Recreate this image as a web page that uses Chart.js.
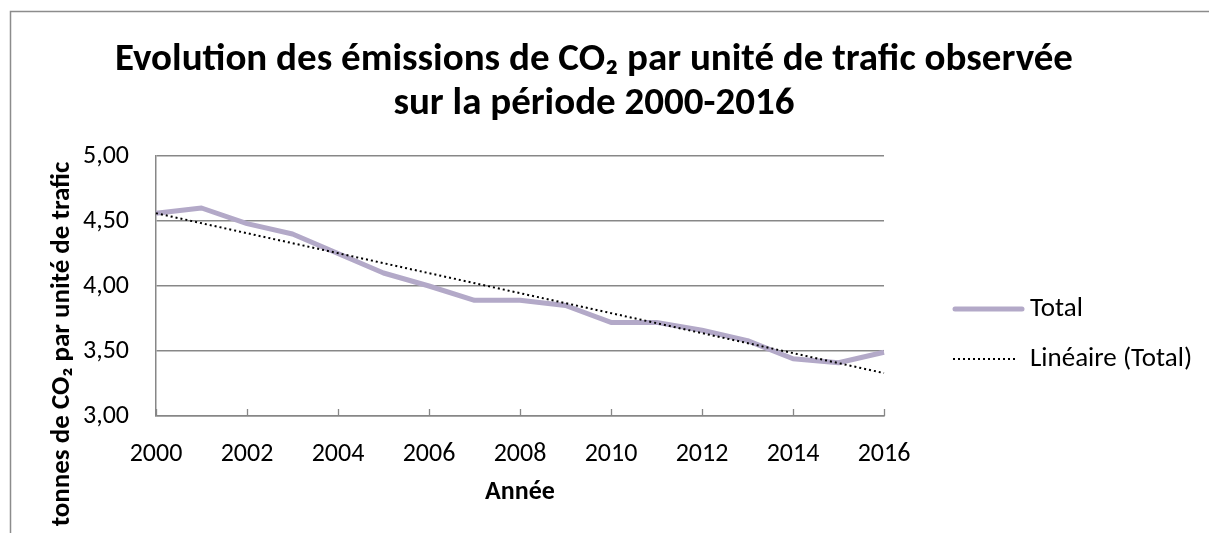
<!DOCTYPE html>
<html>
<head>
<meta charset="utf-8">
<script src="https://cdn.jsdelivr.net/npm/chart.js@4.4.1/dist/chart.umd.min.js"></script>
<style>
html,body{margin:0;padding:0;background:#fff;}
#wrap{width:1209px;height:533px;position:relative;}
</style>
</head>
<body>
<div id="wrap"><canvas id="c" width="1209" height="533"></canvas></div>
<script>
const years = ['2000','2001','2002','2003','2004','2005','2006','2007','2008','2009','2010','2011','2012','2013','2014','2015','2016'];
const totalValues = [4.56,4.60,4.48,4.40,4.25,4.10,4.00,3.89,3.89,3.85,3.72,3.72,3.66,3.58,3.44,3.41,3.49];
const trendValues = [4.56,null,null,null,null,null,null,null,null,null,null,null,null,null,null,null,3.33];
const yTicks = [3.00,3.50,4.00,4.50,5.00];
const titleLines = ['Evolution des émissions de CO₂ par unité de trafic observée','sur la période 2000-2016'];
const yTitle = 'tonnes de CO₂ par unité de trafic';
const xTitle = 'Année';
const legendLabels = ['Total','Linéaire (Total)'];

const FONT = "Carlito, Lato, 'Liberation Sans', sans-serif";
const LINE_COLOR = '#B3A9C8';
const GRID = '#878787';

const decor = {
  id:'decor',
  beforeDraw(chart){
    const ctx = chart.ctx;
    ctx.save();
    ctx.fillStyle='#fff';
    ctx.fillRect(0,0,chart.width,chart.height);
    ctx.strokeStyle='#8c8c8c';
    ctx.lineWidth=1.5;
    ctx.strokeRect(10.5,11.5,1400,700);
    ctx.restore();
  },
  afterDraw(chart){
    const ctx = chart.ctx;
    const xs = chart.scales.x, ys = chart.scales.y;
    ctx.save();
    // inward tick marks on x axis
    ctx.strokeStyle=GRID; ctx.lineWidth=1.3;
    const yb = ys.getPixelForValue(3);
    for(let i=0;i<years.length;i+=2){
      const px = Math.round(xs.getPixelForValue(i))+0.5;
      ctx.beginPath(); ctx.moveTo(px,yb); ctx.lineTo(px,yb-7); ctx.stroke();
    }
    // title
    ctx.fillStyle='#000';
    ctx.textAlign='center'; ctx.textBaseline='middle';
    ctx.font="bold 39px "+FONT;
    ctx.fillText(titleLines[0],594,60);
    ctx.fillText(titleLines[1],594,104);
    // axis titles
    ctx.font="bold 26px "+FONT;
    ctx.fillText(xTitle,(xs.left+xs.right)/2,492);
    ctx.save();
    ctx.translate(62,344);
    ctx.rotate(-Math.PI/2);
    ctx.font="bold 27px "+FONT;
    ctx.fillText(yTitle,0,0);
    ctx.restore();
    // legend
    ctx.textAlign='left';
    ctx.font="27px "+FONT;
    ctx.strokeStyle=LINE_COLOR; ctx.lineWidth=5; ctx.lineCap='round';
    ctx.beginPath(); ctx.moveTo(955,309); ctx.lineTo(1022,309); ctx.stroke();
    ctx.fillText(legendLabels[0],1030,309);
    ctx.strokeStyle='#000'; ctx.lineWidth=2; ctx.lineCap='butt'; ctx.setLineDash([2,3]);
    ctx.beginPath(); ctx.moveTo(953,359); ctx.lineTo(1018,359); ctx.stroke();
    ctx.setLineDash([]);
    ctx.fillText(legendLabels[1],1030,359);
    ctx.restore();
  }
};

new Chart(document.getElementById('c'),{
  type:'line',
  data:{
    labels:years,
    datasets:[
      {label:legendLabels[0],data:totalValues,borderColor:LINE_COLOR,borderWidth:5,pointRadius:0,tension:0,borderJoinStyle:'round',order:2},
      {label:legendLabels[1],data:trendValues,borderColor:'#000',borderWidth:2,borderDash:[2,3],pointRadius:0,spanGaps:true,tension:0,order:1}
    ]
  },
  options:{
    responsive:false,
    animation:false,
    devicePixelRatio:1,
    layout:{padding:{top:156,right:325,bottom:0,left:0}},
    plugins:{legend:{display:false},title:{display:false},tooltip:{enabled:false}},
    scales:{
      x:{
        type:'category',
        offset:false,
        grid:{display:false,drawTicks:false},
        border:{display:true,color:GRID,width:1.5},
        ticks:{
          autoSkip:false,maxRotation:0,padding:23,color:'#000',
          font:{family:FONT,size:26},
          callback:(v,i)=> i%2===0 ? years[i] : null
        },
        afterFit(s){ s.height = 533-416; }
      },
      y:{
        min:3,max:5,
        afterBuildTicks(s){ s.ticks = yTicks.map(v=>({value:v})); },
        grid:{color:GRID,lineWidth:1.5,drawTicks:false},
        border:{display:true,color:GRID,width:1.5},
        ticks:{
          padding:27,color:'#000',
          font:{family:FONT,size:26},
          callback:v=> v.toFixed(2).replace('.',',')
        },
        afterFit(s){ s.width = 156; }
      }
    }
  },
  plugins:[decor]
});
</script>
</body>
</html>
